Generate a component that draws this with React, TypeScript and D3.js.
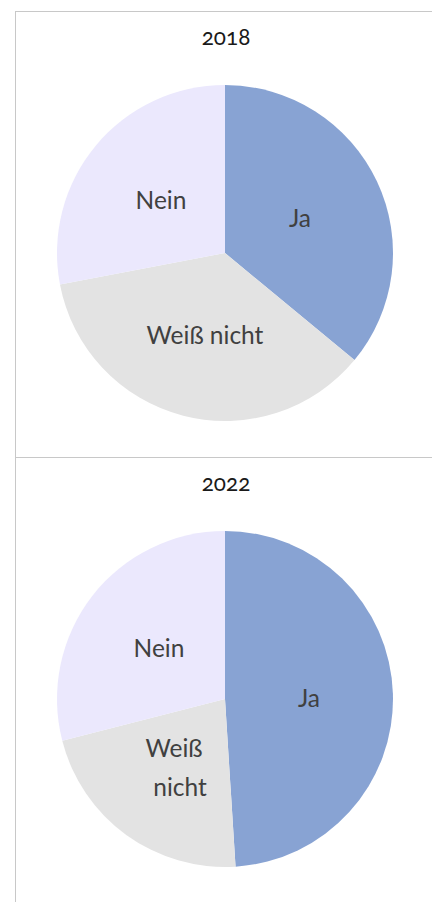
import React from "react";
import * as d3 from "d3";

const categories = ["Ja", "Weiß nicht", "Nein"];
const years = ["2018", "2022"];
const values2018 = [36, 36, 28];
const values2022 = [49, 22, 29];
const colors = ["#88a3d3", "#e3e3e3", "#ebe8fd"];

type Label = { lines: string[]; xs: number[]; y: number };
type PieProps = { title: string; values: number[]; cy: number; titleY: number; labelPos: Label[] };

function Pie({ title, values, cy, titleY, labelPos }: PieProps) {
  const cx = 225;
  const r = 168;
  const pie = d3.pie<number>().sort(null).value((d) => d);
  const arc = d3.arc<d3.PieArcDatum<number>>().innerRadius(0).outerRadius(r);
  const arcs = pie(values);
  return (
    <g>
      <text x={cx + 1} y={titleY} textAnchor="middle" fontSize={22.5} fill="#1a1a1a" style={{ fontFeatureSettings: '"onum"' }}>
        {title}
      </text>
      <g transform={`translate(${cx},${cy})`}>
        {arcs.map((a, i) => (
          <path key={i} d={arc(a) || ""} fill={colors[i]} />
        ))}
      </g>
      {labelPos.map((l, i) => (
        <text key={i} y={l.y} textAnchor="middle" fontSize={24.5} fill="#404040">
          {l.lines.map((t, j) => (
            <tspan key={j} x={l.xs[j]} dy={j === 0 ? 0 : 39}>
              {t}
            </tspan>
          ))}
        </text>
      ))}
    </g>
  );
}

export default function App() {
  return (
    <svg width={432} height={902} style={{ position: "absolute", left: 0, top: 0, fontFamily: "Lato, sans-serif" }}>
      <rect width={432} height={902} fill="#fff" />
      <line x1={15.5} x2={15.5} y1={11} y2={902} stroke="#c8c8c8" />
      <line x1={15} x2={432} y1={11.5} y2={11.5} stroke="#c8c8c8" />
      <line x1={15} x2={432} y1={457.5} y2={457.5} stroke="#c8c8c8" />
      <Pie
        title={years[0]}
        values={values2018}
        cy={253}
        titleY={45}
        labelPos={[
          { lines: [categories[0]], xs: [300], y: 227 },
          { lines: [categories[1]], xs: [205], y: 344 },
          { lines: [categories[2]], xs: [161], y: 209 },
        ]}
      />
      <Pie
        title={years[1]}
        values={values2022}
        cy={699}
        titleY={491}
        labelPos={[
          { lines: [categories[0]], xs: [309], y: 707 },
          { lines: ["Weiß", "nicht"], xs: [174, 180], y: 757 },
          { lines: [categories[2]], xs: [159], y: 657 },
        ]}
      />
    </svg>
  );
}
